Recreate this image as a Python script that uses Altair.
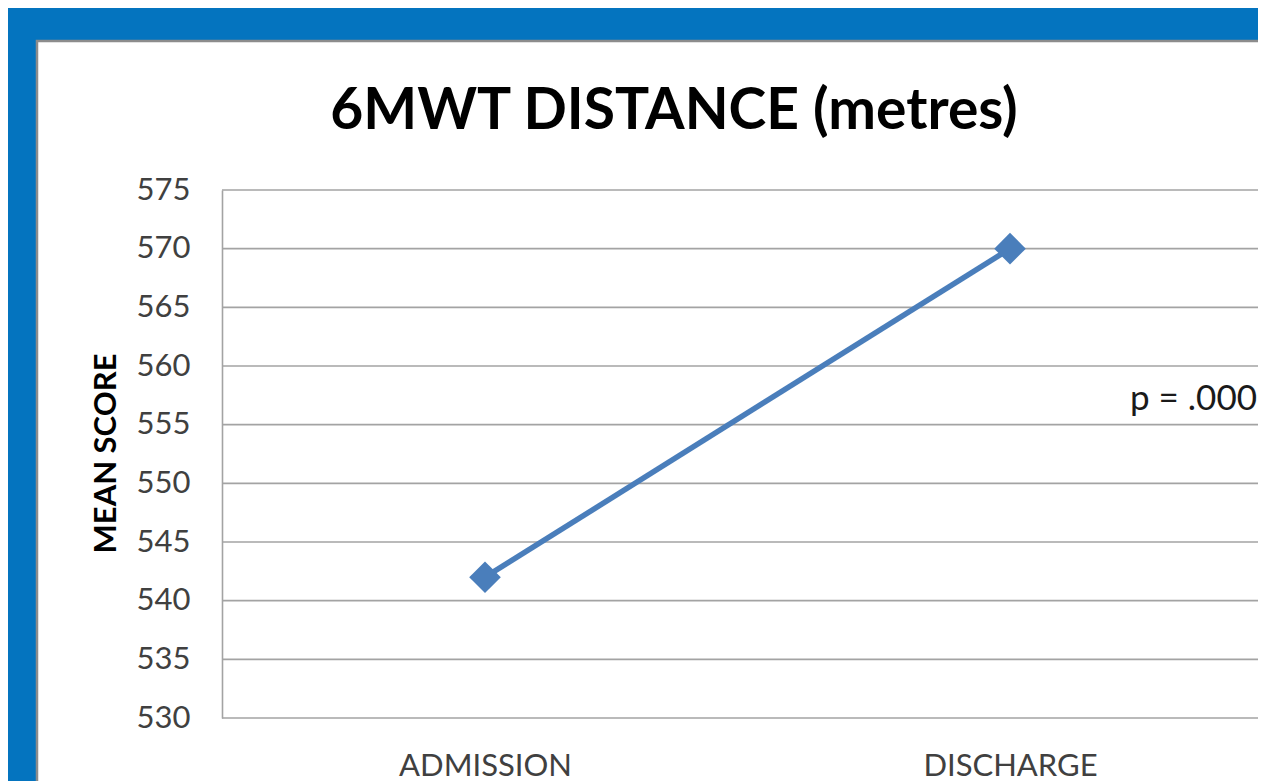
import altair as alt
import pandas as pd

# ---- data ----
stages = ["ADMISSION", "DISCHARGE"]
mean_scores = [542, 570]
y_ticks = [530, 535, 540, 545, 550, 555, 560, 565, 570, 575]
title_text = ["6MWT DISTANCE (metres)"]
y_title = "MEAN SCORE"
p_label = ["p = .000"]

W = 1036
H = 528

df = pd.DataFrame({"stage": stages, "score": mean_scores})
grid_df = pd.DataFrame({"score": y_ticks})

BLUE = "#4A7EBB"
GRID = "#A3A3A3"
FONT = "Lato"

xscale = alt.Scale(domain=stages, type="point", padding=0.4867, align=0.5147)
yscale = alt.Scale(domain=[530, 575], nice=False, zero=False)

x_enc = alt.X(
    "stage:N", scale=xscale, sort=stages,
    axis=alt.Axis(
        title=None, labelAngle=0, labelFont=FONT, labelFontSize=31,
        labelColor="#404040", labelPadding=57, labelBaseline="alphabetic",
        tickSize=0, domain=False, grid=False, zindex=1,
    ),
)
y_axis = alt.Axis(
    values=y_ticks, title=y_title, grid=False, tickSize=0,
    labelFont=FONT, labelFontSize=31, labelColor="#404040", labelPadding=32,
    domainColor=GRID, domainWidth=1.6,
    titleFont=FONT, titleFontSize=31, titleFontWeight="bold", titleColor="black",
    titleAngle=270, titleX=-116, titleY=263, titleAlign="center", titleBaseline="middle",
    zindex=1,
)
y_enc = alt.Y("score:Q", scale=yscale, axis=y_axis, title=y_title)

panel = alt.Chart(alt.Data(values=[{"p": 1}])).mark_rect(
    fill="white", stroke="#8C8C8C", strokeWidth=2.5
).encode(
    x=alt.value(-185), x2=alt.value(1200), y=alt.value(-149), y2=alt.value(900)
)

grid = alt.Chart(grid_df).mark_rule(color=GRID, strokeWidth=1.6).encode(y=y_enc)

line = alt.Chart(df).mark_line(color=BLUE, strokeWidth=5.5).encode(x=x_enc, y=y_enc)
points = alt.Chart(df).mark_point(
    shape="diamond", filled=True, size=1000, color=BLUE, opacity=1
).encode(x=x_enc, y=y_enc)

title = alt.Chart(alt.Data(values=[{"t": title_text[0]}])).mark_text(
    font=FONT, fontWeight="bold", fontSize=57, align="center", baseline="alphabetic", color="black"
).encode(x=alt.value(452), y=alt.value(-61), text="t:N")

ptext = alt.Chart(alt.Data(values=[{"t": p_label[0]}])).mark_text(
    font=FONT, fontSize=35, align="left", baseline="alphabetic", color="#1a1a1a"
).encode(x=alt.value(908), y=alt.value(220), text="t:N")

chart = alt.layer(panel, grid, line, points, title, ptext).properties(
    width=W, height=H,
    background="#0474BF",
    autosize=alt.AutoSizeParams(type="none"),
    padding={"left": 214, "top": 182, "right": 0, "bottom": 63},
).configure_view(stroke=None)

chart.save("out.html", embed_options={"renderer": "svg", "actions": False})
